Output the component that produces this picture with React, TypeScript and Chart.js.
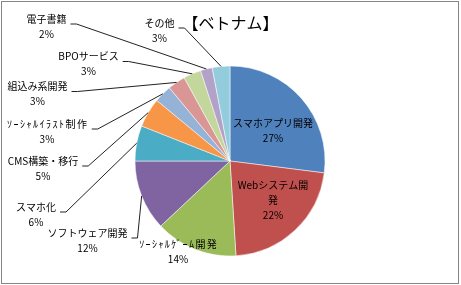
import React, { useEffect, useRef } from "react";
import { Chart, registerables } from "chart.js";

Chart.register(...registerables);

const TITLE = "【ベトナム】";
const CATEGORIES = [
  "スマホアプリ開発",
  "Webシステム開発",
  "ｿｰｼｬﾙｹﾞｰﾑ開発",
  "ソフトウェア開発",
  "スマホ化",
  "CMS構築・移行",
  "ｿｰｼｬﾙｲﾗｽﾄ制作",
  "組込み系開発",
  "BPOサービス",
  "電子書籍",
  "その他",
];
const VALUES = [27, 22, 14, 12, 6, 5, 3, 3, 3, 2, 3];
const COLORS = [
  "#4F81BD",
  "#C0504D",
  "#9BBB59",
  "#8064A2",
  "#4BACC6",
  "#F79646",
  "#95B3D7",
  "#D99694",
  "#C3D69B",
  "#B3A2C7",
  "#93CDDD",
];
// label name wrapping (Excel wrapped one label)
const LABEL_WRAP: Record<number, string[]> = { 1: ["Webシステム開", "発"] };
// half-width kana labels are drawn with extra letter spacing to match the original font width
const LABEL_SPACING: Record<number, number> = { 2: 1.4, 6: 1.5 };

// label layout: offset of first text line centre from pie centre, and whether a leader line is drawn
const LABEL_LAYOUT = [
  { dx: 43, dy: -38, leader: false },
  { dx: 43, dy: 24, leader: false },
  { dx: -52, dy: 83, leader: false },
  { dx: -142.5, dy: 72, leader: true },
  { dx: -194, dy: 46, leader: true },
  { dx: -187, dy: 0, leader: true },
  { dx: -183, dy: -37, leader: true },
  { dx: -192.5, dy: -74.5, leader: true },
  { dx: -141.5, dy: -104.5, leader: true },
  { dx: -183.5, dy: -142, leader: true },
  { dx: -70.5, dy: -138, leader: true },
];

const FONT = '"Noto Sans CJK JP", "Noto Sans", sans-serif';
const W = 461;
const H = 285;

const labelPlugin = {
  id: "excelLabels",
  beforeDraw(chart: any) {
    const ctx = chart.ctx;
    ctx.save();
    ctx.fillStyle = "#ffffff";
    ctx.fillRect(0, 0, chart.width, chart.height);
    ctx.restore();
  },
  afterDraw(chart: any) {
    const ctx = chart.ctx;
    const meta = chart.getDatasetMeta(0);
    const total = VALUES.reduce((a, b) => a + b, 0);
    ctx.save();
    // border
    ctx.strokeStyle = "#868686";
    ctx.lineWidth = 1;
    ctx.strokeRect(1.5, 1.5, 457, 282);
    // title
    ctx.fillStyle = "#000";
    ctx.font = `16px ${FONT}`;
    ctx.textAlign = "center";
    ctx.textBaseline = "middle";
    ctx.fillText(TITLE, chart.width / 2, 23);

    ctx.font = `10px ${FONT}`;
    const LINE_H = 15;
    meta.data.forEach((arc: any, i: number) => {
      const p = arc.getProps(["x", "y", "startAngle", "endAngle", "outerRadius"], true);
      const mid = (p.startAngle + p.endAngle) / 2;
      const lay = LABEL_LAYOUT[i];
      const lx = p.x + lay.dx;
      const ly = p.y + lay.dy;
      const pct = Math.round((VALUES[i] / total) * 100) + "%";
      const names = LABEL_WRAP[i] || [CATEGORIES[i]];
      const lines = [...names, pct];
      ctx.fillStyle = "#000";
      let firstW = 0;
      lines.forEach((t, k) => {
        const sp = k < names.length ? LABEL_SPACING[i] || 0 : 0;
        (ctx as any).letterSpacing = sp + "px";
        const w = ctx.measureText(t).width;
        if (k === 0) firstW = w;
        ctx.fillText(t, lx + sp / 2, ly + k * LINE_H);
      });
      (ctx as any).letterSpacing = "0px";
      if (lay.leader) {
        const sx = lx + firstW / 2 + 4;
        const sy = ly + 5;
        const px = p.x + Math.cos(mid) * p.outerRadius;
        const py = p.y + Math.sin(mid) * p.outerRadius;
        ctx.strokeStyle = "#222";
        ctx.lineWidth = 1;
        ctx.beginPath();
        ctx.moveTo(sx, sy);
        ctx.lineTo(sx + 6, sy);
        ctx.lineTo(px, py);
        ctx.stroke();
      }
    });
    ctx.restore();
  },
};

export default function App() {
  const ref = useRef<HTMLCanvasElement | null>(null);
  useEffect(() => {
    if (!ref.current) return;
    const chart = new Chart(ref.current, {
      type: "pie",
      data: {
        labels: CATEGORIES,
        datasets: [
          {
            data: VALUES,
            backgroundColor: COLORS,
            borderColor: "rgba(255,255,255,0.5)",
            borderWidth: 1,
          },
        ],
      },
      options: {
        responsive: false,
        animation: false,
        devicePixelRatio: 1,
        layout: { padding: { left: 134.5, right: 135.5, top: 65.5, bottom: 28.5 } },
        plugins: {
          legend: { display: false },
          tooltip: { enabled: false },
          title: { display: false },
        },
      },
      plugins: [labelPlugin],
    });
    return () => chart.destroy();
  }, []);
  return (
    <div style={{ position: "fixed", left: 0, top: 0, width: W, height: H, background: "#fff" }}>
      <canvas ref={ref} width={W} height={H} style={{ display: "block", width: W, height: H }} />
    </div>
  );
}
